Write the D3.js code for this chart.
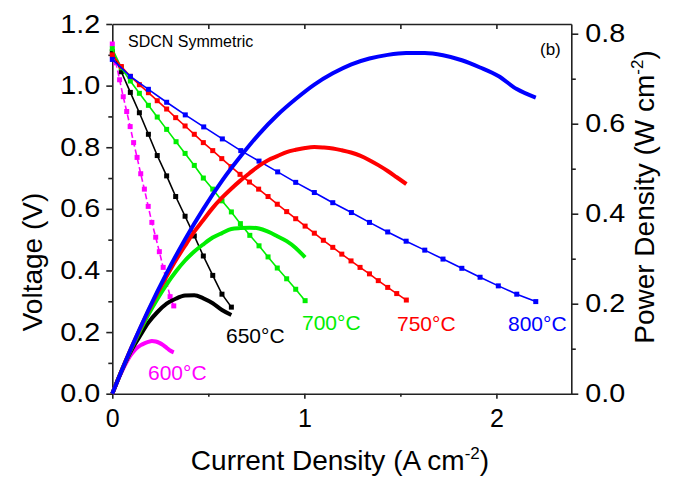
<!DOCTYPE html>
<html><head><meta charset="utf-8">
<script src="https://cdn.jsdelivr.net/npm/d3@7"></script>
<style>
body{margin:0;background:#fff}
svg{display:block}
text{font-family:"Liberation Sans",Arial,sans-serif}
</style>
</head><body>
<svg id="c" width="674" height="479"></svg>
<script>
// ---------- data ----------
const current600 = [0, 0.019, 0.038, 0.057, 0.075, 0.093, 0.111, 0.129, 0.148, 0.167, 0.187, 0.206, 0.226, 0.245, 0.265, 0.283, 0.301, 0.320];
const voltage600 = [1.135, 1.074, 1.019, 0.964, 0.916, 0.867, 0.815, 0.767, 0.714, 0.664, 0.608, 0.556, 0.508, 0.461, 0.410, 0.362, 0.315, 0.285];
const power600   = [0, 0.020, 0.039, 0.056, 0.071, 0.084, 0.094, 0.102, 0.108, 0.112, 0.115, 0.117, 0.116, 0.113, 0.108, 0.102, 0.096, 0.092];

const current650 = [0, 0.047, 0.094, 0.141, 0.188, 0.234, 0.283, 0.330, 0.379, 0.427, 0.474, 0.523, 0.571, 0.620];
const voltage650 = [1.110, 1.045, 0.978, 0.912, 0.842, 0.773, 0.707, 0.640, 0.576, 0.512, 0.447, 0.384, 0.323, 0.281];
const power650   = [0, 0.049, 0.092, 0.126, 0.158, 0.181, 0.200, 0.211, 0.218, 0.219, 0.212, 0.201, 0.186, 0.175];

const current700 = [0, 0.047, 0.094, 0.141, 0.188, 0.234, 0.283, 0.332, 0.379, 0.427, 0.474, 0.523, 0.571, 0.620, 0.667, 0.716, 0.764, 0.811, 0.859, 0.908, 0.955, 1.004];
const voltage700 = [1.120, 1.058, 1.015, 0.975, 0.936, 0.898, 0.858, 0.818, 0.780, 0.741, 0.700, 0.664, 0.626, 0.590, 0.552, 0.514, 0.480, 0.444, 0.408, 0.373, 0.339, 0.302];
const power700   = [0, 0.050, 0.095, 0.137, 0.176, 0.210, 0.243, 0.272, 0.296, 0.316, 0.332, 0.347, 0.357, 0.366, 0.368, 0.369, 0.367, 0.360, 0.350, 0.339, 0.324, 0.303];

const current750 = [0, 0.047, 0.094, 0.141, 0.188, 0.234, 0.283, 0.330, 0.379, 0.427, 0.474, 0.523, 0.570, 0.618, 0.665, 0.714, 0.762, 0.811, 0.859, 0.908, 0.955, 1.004, 1.052, 1.099, 1.148, 1.195, 1.243, 1.290, 1.339, 1.385, 1.434, 1.481, 1.531];
const voltage750 = [1.100, 1.062, 1.030, 1.003, 0.977, 0.951, 0.924, 0.896, 0.869, 0.842, 0.815, 0.789, 0.763, 0.737, 0.712, 0.687, 0.664, 0.640, 0.615, 0.591, 0.568, 0.544, 0.521, 0.498, 0.475, 0.453, 0.431, 0.410, 0.389, 0.367, 0.345, 0.325, 0.304];
const power750   = [0, 0.050, 0.097, 0.141, 0.184, 0.223, 0.261, 0.296, 0.329, 0.360, 0.386, 0.413, 0.435, 0.455, 0.473, 0.490, 0.506, 0.519, 0.528, 0.537, 0.542, 0.546, 0.548, 0.547, 0.545, 0.541, 0.536, 0.529, 0.519, 0.508, 0.495, 0.481, 0.466];

const current800 = [0, 0.094, 0.188, 0.283, 0.380, 0.476, 0.573, 0.669, 0.764, 0.861, 0.955, 1.052, 1.148, 1.245, 1.339, 1.434, 1.530, 1.627, 1.722, 1.820, 1.915, 2.010, 2.106, 2.205];
const voltage800 = [1.085, 1.030, 0.988, 0.946, 0.905, 0.866, 0.827, 0.789, 0.755, 0.720, 0.686, 0.653, 0.620, 0.588, 0.556, 0.525, 0.495, 0.466, 0.437, 0.407, 0.378, 0.350, 0.323, 0.299];
const power800   = [0, 0.097, 0.186, 0.268, 0.344, 0.412, 0.474, 0.528, 0.577, 0.620, 0.655, 0.687, 0.712, 0.732, 0.745, 0.753, 0.757, 0.757, 0.752, 0.741, 0.725, 0.706, 0.677, 0.658];

const seriesLabels = ["600°C", "650°C", "700°C", "750°C", "800°C"];
const xTicks = [0, 1, 2];
const xMinorTicks = [0.5, 1.5];
const vTicks = [0, 0.2, 0.4, 0.6, 0.8, 1.0, 1.2];
const vMinorTicks = [0.1, 0.3, 0.5, 0.7, 0.9, 1.1];
const pTicks = [0, 0.2, 0.4, 0.6, 0.8];
const pMinorTicks = [0.1, 0.3, 0.5, 0.7];

// ---------- styles ----------
const colors = ["#ff00ff", "#000000", "#00ee00", "#ff0000", "#0000ff"];
const dashes = ["6,3", null, null, null, null];
const labelPos = [[148, 380], [226, 343], [302, 330], [397, 331], [508, 331]];

const series = [
  {I: current600, V: voltage600, P: power600},
  {I: current650, V: voltage650, P: power650},
  {I: current700, V: voltage700, P: power700},
  {I: current750, V: voltage750, P: power750},
  {I: current800, V: voltage800, P: power800}
];

const svg = d3.select("#c");
const X0 = 112.3, X1 = 571.3, Y0 = 393.7, Y1 = 24;
const x = d3.scaleLinear().domain([0, 2.39]).range([X0, X1]);
const yV = d3.scaleLinear().domain([0, 1.2]).range([Y0, Y1]);
const yP = d3.scaleLinear().domain([0, 0.8216]).range([Y0, Y1]);

const AX = "#222";
const FONT = 25;
const SX = 1.15;

function styleAxis(g, fs) {
  g.selectAll("path.domain").attr("stroke", AX).attr("stroke-width", 1.6);
  g.selectAll(".tick line").attr("stroke", AX).attr("stroke-width", 1.6);
  g.selectAll(".tick text").attr("fill", "#000").style("font-size", fs + "px")
    .style("font-family", '"Liberation Sans",Arial,sans-serif');
}

// bottom axis
const gb = svg.append("g").attr("transform", `translate(0,${Y0})`)
  .call(d3.axisBottom(x).tickValues(xTicks).tickFormat(d3.format("d")).tickSize(5).tickSizeOuter(0));
styleAxis(gb, FONT);
gb.selectAll(".tick text").attr("y", 33).attr("dy", 0);
const gbm = svg.append("g").attr("transform", `translate(0,${Y0})`)
  .call(d3.axisBottom(x).tickValues(xMinorTicks).tickFormat("").tickSize(3));
styleAxis(gbm, FONT); gbm.select("path.domain").remove();

// top axis (frame) with inward ticks
const gt = svg.append("g").attr("transform", `translate(0,${Y1})`)
  .call(d3.axisTop(x).tickValues([0.5, 1, 1.5, 2]).tickFormat("").tickSize(-5).tickSizeOuter(0));
styleAxis(gt, FONT);

// left axis
const gl = svg.append("g").attr("transform", `translate(${X0},0)`)
  .call(d3.axisLeft(yV).tickValues(vTicks).tickFormat(d3.format(".1f")).tickSize(6).tickSizeOuter(0));
styleAxis(gl, FONT);
gl.selectAll(".tick text").attr("x", -12 / SX).attr("transform", `scale(${SX},1)`);
const glm = svg.append("g").attr("transform", `translate(${X0},0)`)
  .call(d3.axisLeft(yV).tickValues(vMinorTicks).tickFormat("").tickSize(4));
styleAxis(glm, FONT); glm.select("path.domain").remove();

// right axis
const gr = svg.append("g").attr("transform", `translate(${X1},0)`)
  .call(d3.axisRight(yP).tickValues(pTicks).tickFormat(d3.format(".1f")).tickSize(7).tickSizeOuter(0));
styleAxis(gr, FONT);
gr.selectAll(".tick text").attr("x", 14 / SX).attr("transform", `scale(${SX},1)`);
const grm = svg.append("g").attr("transform", `translate(${X1},0)`)
  .call(d3.axisRight(yP).tickValues(pMinorTicks).tickFormat("").tickSize(4.5));
styleAxis(grm, FONT); grm.select("path.domain").remove();

// ---------- voltage curves (lines + square markers) ----------
series.forEach((s, k) => {
  const idx = d3.range(s.I.length);
  const line = d3.line().x(i => x(s.I[i])).y(i => yV(s.V[i]));
  svg.append("path").attr("d", line(idx)).attr("fill", "none")
    .attr("stroke", colors[k]).attr("stroke-width", 1.6)
    .attr("stroke-dasharray", dashes[k]);
  const ms = 5;
  svg.append("g").selectAll("rect").data(idx).join("rect")
    .attr("x", i => x(s.I[i]) - ms / 2).attr("y", i => yV(s.V[i]) - ms / 2)
    .attr("width", ms).attr("height", ms).attr("fill", colors[k]);
});

// ---------- power curves ----------
series.forEach((s, k) => {
  const idx = d3.range(s.I.length);
  const line = d3.line().curve(d3.curveMonotoneX).x(i => x(s.I[i])).y(i => yP(s.P[i]));
  svg.append("path").attr("d", line(idx)).attr("fill", "none")
    .attr("stroke", colors[k]).attr("stroke-width", 4).attr("stroke-linejoin", "round");
});

// ---------- labels ----------
seriesLabels.forEach((t, k) => {
  svg.append("text").attr("x", labelPos[k][0]).attr("y", labelPos[k][1])
    .attr("fill", colors[k]).style("font-size", "21px").text(t);
});
svg.append("text").attr("x", 128).attr("y", 47).style("font-size", "16px").text("SDCN Symmetric");
svg.append("text").attr("x", 540).attr("y", 55).style("font-size", "17px").text("(b)");

// axis titles
const xt = svg.append("text").attr("x", 340).attr("y", 470).attr("text-anchor", "middle").style("font-size", "28px");
xt.append("tspan").text("Current Density (A cm");
xt.append("tspan").attr("dy", -11).style("font-size", "17px").text("-2");
xt.append("tspan").attr("dy", 11).text(")");

svg.append("text").attr("transform", "translate(42,262) rotate(-90)").attr("text-anchor", "middle")
  .style("font-size", "28px").text("Voltage (V)");

const rt = svg.append("text").attr("transform", "translate(654,197) rotate(-90)").attr("text-anchor", "middle").style("font-size", "28px");
rt.append("tspan").text("Power Density (W cm");
rt.append("tspan").attr("dy", -11).style("font-size", "17px").text("-2");
rt.append("tspan").attr("dy", 11).text(")");
</script>
</body></html>
